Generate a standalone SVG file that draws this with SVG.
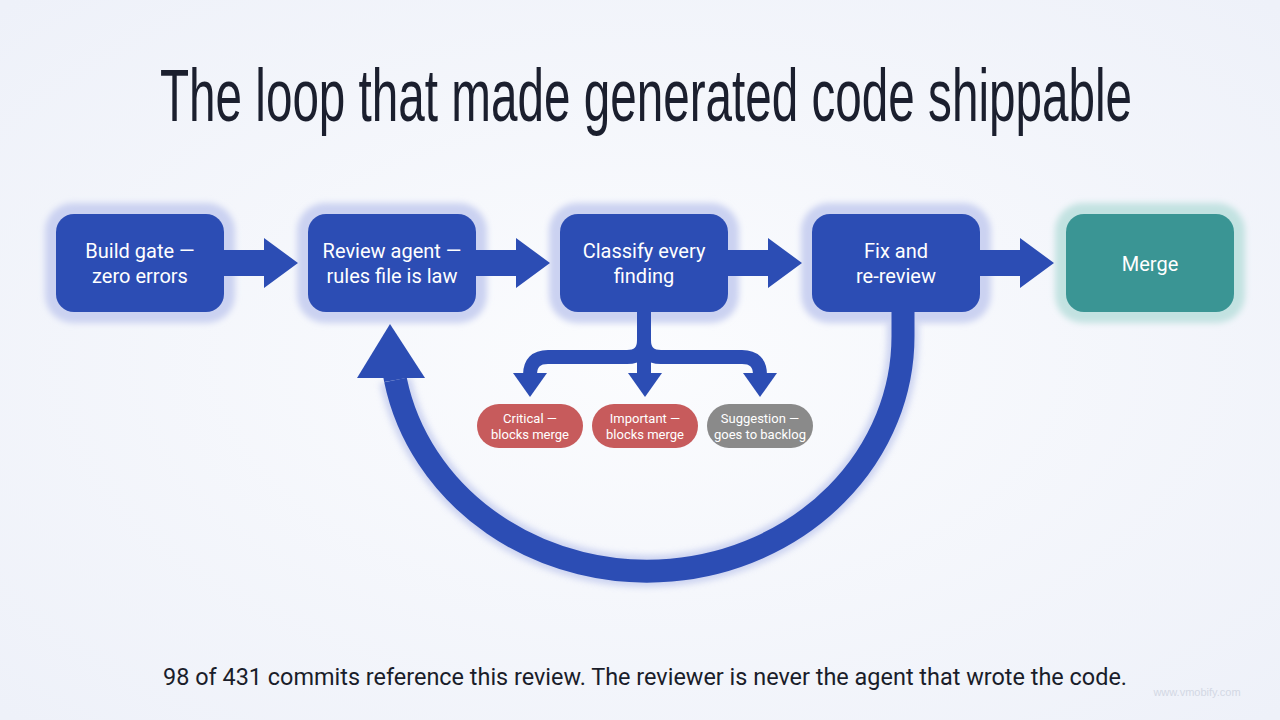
<svg xmlns="http://www.w3.org/2000/svg" width="1280" height="720" viewBox="0 0 1280 720">
<defs>
<radialGradient id="bg" cx="50%" cy="50%" r="70%">
<stop offset="0" stop-color="#fbfcfe"/>
<stop offset="1" stop-color="#eef1f9"/>
</radialGradient>
<filter id="halo" x="-30%" y="-30%" width="160%" height="160%"><feGaussianBlur stdDeviation="3"/></filter>
<filter id="soft" x="-20%" y="-20%" width="140%" height="140%"><feGaussianBlur stdDeviation="3"/></filter>
<style>
.box{fill:#2c4db4}
.halo{fill:#cbd2f1;filter:url(#halo)}
.t{font-family:Roboto,"Liberation Sans",sans-serif;font-size:20px;fill:#ffffff;text-anchor:middle}
.pt{font-family:Roboto,"Liberation Sans",sans-serif;font-size:13px;fill:#ffffff;text-anchor:middle}
.arr{fill:#2c4db4}
</style>
</defs>
<rect width="1280" height="720" fill="url(#bg)"/>
<text transform="translate(646,121) scale(0.644,1)" x="0" y="0" font-family="'Liberation Sans',Arial,sans-serif" font-size="74" fill="#1b1f2e" text-anchor="middle">The loop that made generated code shippable</text>

<g id="n1"><rect x="45" y="203" width="190" height="120" rx="28" class="halo"/><rect x="56" y="214" width="168" height="98" rx="18" class="box"/><text class="t" x="140" y="258">Build gate —</text><text class="t" x="140" y="283">zero errors</text></g>
<g id="n2"><rect x="297" y="203" width="190" height="120" rx="28" class="halo"/><rect x="308" y="214" width="168" height="98" rx="18" class="box"/><text class="t" x="392" y="258">Review agent —</text><text class="t" x="392" y="283">rules file is law</text></g>
<g id="n3"><rect x="549" y="203" width="190" height="120" rx="28" class="halo"/><rect x="560" y="214" width="168" height="98" rx="18" class="box"/><text class="t" x="644" y="258">Classify every</text><text class="t" x="644" y="283">finding</text></g>
<g id="n4"><rect x="801" y="203" width="190" height="120" rx="28" class="halo"/><rect x="812" y="214" width="168" height="98" rx="18" class="box"/><text class="t" x="896" y="258">Fix and</text><text class="t" x="896" y="283">re-review</text></g>
<g id="n5"><rect x="1055" y="203" width="190" height="120" rx="28" fill="#c2e2e1" filter="url(#halo)"/><rect x="1066" y="214" width="168" height="98" rx="18" fill="#3a9594"/><text class="t" x="1150" y="271">Merge</text></g>

<g id="connectors">
<path d="M224 250 H264 V238 L298 263 L264 288 V276 H224 Z" class="arr"/>
<path d="M476 250 H516 V238 L550 263 L516 288 V276 H476 Z" class="arr"/>
<path d="M728 250 H768 V238 L802 263 L768 288 V276 H728 Z" class="arr"/>
<path d="M980 250 H1020 V238 L1054 263 L1020 288 V276 H980 Z" class="arr"/>
<g fill="none" stroke="#2c4db4" stroke-width="14">
<path d="M644 312 V340 Q644 357 627 357 H548 Q530 357 530 375 V378"/>
<path d="M644 312 V340 Q644 357 661 357 H742 Q760 357 760 375 V378"/>
<path d="M644 340 V378"/>
</g>
<polygon points="513,373 547,373 530,397" class="arr"/>
<polygon points="628,373 662,373 645,397" class="arr"/>
<polygon points="743,373 777,373 760,397" class="arr"/>
<path d="M903 322 V336 A256 235 0 0 1 395.5 380" fill="none" stroke="#bcc5ec" stroke-width="32" filter="url(#soft)" opacity="0.7"/>
<path d="M903 312 V336 A256 235 0 0 1 395.5 380" fill="none" stroke="#2c4db4" stroke-width="23"/>
<path d="M395.5 380 L394 372" fill="none" stroke="#2c4db4" stroke-width="23"/>
<polygon points="390,324 357,378 425,378" class="arr"/>
</g>

<g id="p1"><rect x="477" y="404" width="106" height="44" rx="22" fill="#c75b5c"/><text class="pt" x="530" y="423">Critical —</text><text class="pt" x="530" y="439">blocks merge</text></g>
<g id="p2"><rect x="592" y="404" width="106" height="44" rx="22" fill="#c75b5c"/><text class="pt" x="645" y="423">Important —</text><text class="pt" x="645" y="439">blocks merge</text></g>
<g id="p3"><rect x="707" y="404" width="106" height="44" rx="22" fill="#8a8a8a"/><text class="pt" x="760" y="423">Suggestion —</text><text class="pt" x="760" y="439">goes to backlog</text></g>

<text x="645" y="685" font-family="Roboto,'Liberation Sans',sans-serif" font-size="23" fill="#1a1d2a" text-anchor="middle" textLength="964" lengthAdjust="spacingAndGlyphs">98 of 431 commits reference this review. The reviewer is never the agent that wrote the code.</text>
<text x="1197" y="696" font-family="'Liberation Sans',sans-serif" font-size="11" fill="#d3d8e4" text-anchor="middle">www.vmobify.com</text>
</svg>
